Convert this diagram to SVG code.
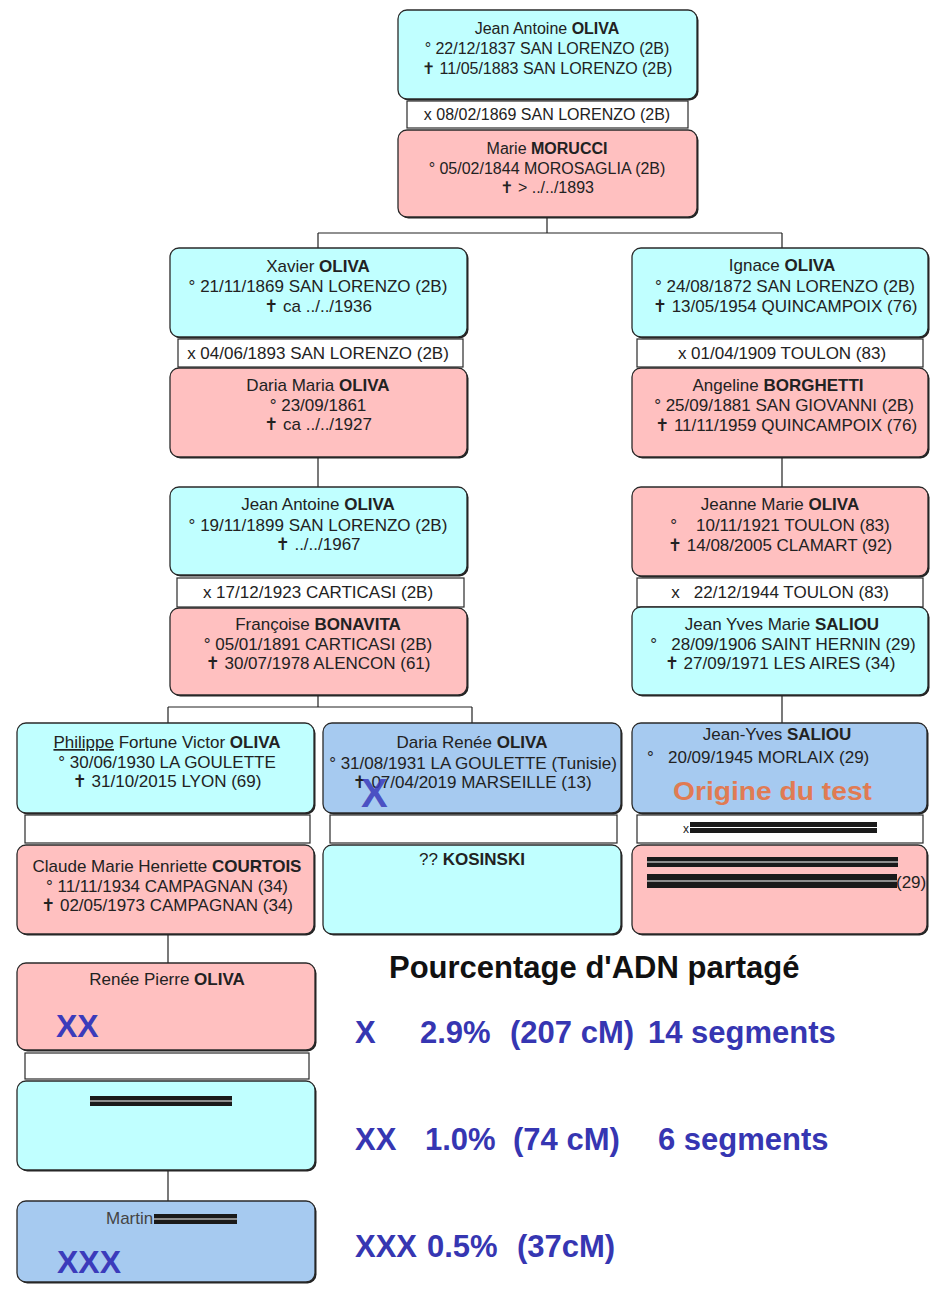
<svg xmlns="http://www.w3.org/2000/svg" width="932" height="1297" viewBox="0 0 932 1297">
<style>
.cy{fill:#c0ffff}.pk{fill:#ffc0c0}.bl{fill:#a6caf0}
.box{stroke:#2a2a2a;stroke-width:1.3}
.sh{fill:#222}
.mar{fill:#fff;stroke:#2a2a2a;stroke-width:1.2}
.t{font-family:"Liberation Sans",Arial,"DejaVu Sans",sans-serif;font-size:17px;fill:#222;text-anchor:middle}
.s16{font-size:16px}
.st{text-anchor:start}
.b{font-weight:bold}
.conn{stroke:#222;stroke-width:1.2;fill:none}
.red{fill:#1a1a1a}
.redl{stroke:#fff;stroke-width:1.2}
.leg{font-family:"Liberation Sans",Arial,sans-serif;font-size:31px;font-weight:bold;fill:#3636b2}
.mk{font-family:"Liberation Sans",Arial,sans-serif;font-weight:bold;fill:#3b3bbb}
</style>
<rect width="932" height="1297" fill="#fff"/>
<g id="connectors">
<path class="conn" d="M547 217V233M318 233H782M318 233V248M782 233V248"/>
<path class="conn" d="M318 458V487M782 458V487"/>
<path class="conn" d="M318 695V707M168 707H472M168 707V723M472 707V723M782 696V723"/>
<path class="conn" d="M168 935V963M168 1171V1201"/>
</g>
<g id="n_jean_antoine_1837">
<rect class="sh" x="399.5" y="11.5" width="299" height="89" rx="9"/>
<rect class="cy box" x="398" y="10" width="299" height="89" rx="9"/>
<text class="t s16" x="547" y="34">Jean Antoine <tspan class="b">OLIVA</tspan></text>
<text class="t s16" x="547" y="54">° 22/12/1837 SAN LORENZO (2B)</text>
<text class="t s16" x="547" y="74">✝ 11/05/1883 SAN LORENZO (2B)</text>
</g>
<g id="m_1869">
<rect class="mar" x="407" y="101" width="281" height="27"/>
<text class="t s16" x="547" y="120">x 08/02/1869 SAN LORENZO (2B)</text>
</g>
<g id="n_marie_morucci">
<rect class="sh" x="399.5" y="131.5" width="299" height="87" rx="9"/>
<rect class="pk box" x="398" y="130" width="299" height="87" rx="9"/>
<text class="t s16" x="547" y="154">Marie <tspan class="b">MORUCCI</tspan></text>
<text class="t s16" x="547" y="174">° 05/02/1844 MOROSAGLIA (2B)</text>
<text class="t s16" x="547" y="193">✝ &gt; ../../1893</text>
</g>
<g id="n_xavier">
<rect class="sh" x="171.5" y="249.5" width="297" height="89" rx="9"/>
<rect class="cy box" x="170" y="248" width="297" height="89" rx="9"/>
<text class="t" x="318" y="272">Xavier <tspan class="b">OLIVA</tspan></text>
<text class="t" x="318" y="292">° 21/11/1869 SAN LORENZO (2B)</text>
<text class="t" x="318" y="312">✝ ca ../../1936</text>
</g>
<g id="m_1893">
<rect class="mar" x="178" y="339" width="285" height="28"/>
<text class="t" x="318" y="359">x 04/06/1893 SAN LORENZO (2B)</text>
</g>
<g id="n_daria_maria">
<rect class="sh" x="171.5" y="369.5" width="297" height="89" rx="9"/>
<rect class="pk box" x="170" y="368" width="297" height="89" rx="9"/>
<text class="t" x="318" y="391">Daria Maria <tspan class="b">OLIVA</tspan></text>
<text class="t" x="318" y="411">° 23/09/1861</text>
<text class="t" x="318" y="430">✝ ca ../../1927</text>
</g>
<g id="n_jean_antoine_1899">
<rect class="sh" x="171.5" y="488.5" width="297" height="88" rx="9"/>
<rect class="cy box" x="170" y="487" width="297" height="88" rx="9"/>
<text class="t" x="318" y="510">Jean Antoine <tspan class="b">OLIVA</tspan></text>
<text class="t" x="318" y="531">° 19/11/1899 SAN LORENZO (2B)</text>
<text class="t" x="318" y="550">✝ ../../1967</text>
</g>
<g id="m_1923">
<rect class="mar" x="177" y="578" width="287" height="29"/>
<text class="t" x="318" y="598">x 17/12/1923 CARTICASI (2B)</text>
</g>
<g id="n_francoise">
<rect class="sh" x="171.5" y="609.5" width="297" height="87" rx="9"/>
<rect class="pk box" x="170" y="608" width="297" height="87" rx="9"/>
<text class="t" x="318" y="630">Françoise <tspan class="b">BONAVITA</tspan></text>
<text class="t" x="318" y="650">° 05/01/1891 CARTICASI (2B)</text>
<text class="t" x="318" y="669">✝ 30/07/1978 ALENCON (61)</text>
</g>
<g id="n_ignace">
<rect class="sh" x="633.5" y="249.5" width="296" height="89" rx="9"/>
<rect class="cy box" x="632" y="248" width="296" height="89" rx="9"/>
<text class="t" x="782" y="271">Ignace <tspan class="b">OLIVA</tspan></text>
<text class="t" x="785" y="292">° 24/08/1872 SAN LORENZO (2B)</text>
<text class="t" x="785" y="312">✝ 13/05/1954 QUINCAMPOIX (76)</text>
</g>
<g id="m_1909">
<rect class="mar" x="637" y="339" width="286" height="28"/>
<text class="t" x="782" y="359">x 01/04/1909 TOULON (83)</text>
</g>
<g id="n_angeline">
<rect class="sh" x="633.5" y="369.5" width="296" height="89" rx="9"/>
<rect class="pk box" x="632" y="368" width="296" height="89" rx="9"/>
<text class="t" x="778" y="391">Angeline <tspan class="b">BORGHETTI</tspan></text>
<text class="t" x="784" y="411">° 25/09/1881 SAN GIOVANNI (2B)</text>
<text class="t" x="786" y="431">✝ 11/11/1959 QUINCAMPOIX (76)</text>
</g>
<g id="n_jeanne_marie">
<rect class="sh" x="633.5" y="488.5" width="296" height="89" rx="9"/>
<rect class="pk box" x="632" y="487" width="296" height="89" rx="9"/>
<text class="t" x="780" y="510">Jeanne Marie <tspan class="b">OLIVA</tspan></text>
<text class="t" x="780" y="531">°&#160;&#160;&#160; 10/11/1921 TOULON (83)</text>
<text class="t" x="780" y="551">✝ 14/08/2005 CLAMART (92)</text>
</g>
<g id="m_1944">
<rect class="mar" x="637" y="578" width="286" height="29"/>
<text class="t" x="780" y="598">x&#160;&#160; 22/12/1944 TOULON (83)</text>
</g>
<g id="n_jean_yves_marie">
<rect class="sh" x="633.5" y="608.5" width="296" height="88" rx="9"/>
<rect class="cy box" x="632" y="607" width="296" height="88" rx="9"/>
<text class="t" x="782" y="630">Jean Yves Marie <tspan class="b">SALIOU</tspan></text>
<text class="t" x="783" y="650">°&#160;&#160; 28/09/1906 SAINT HERNIN (29)</text>
<text class="t" x="780" y="669">✝ 27/09/1971 LES AIRES (34)</text>
</g>
<g id="n_philippe">
<rect class="sh" x="18.5" y="724.5" width="297" height="90" rx="9"/>
<rect class="cy box" x="17" y="723" width="297" height="90" rx="9"/>
<text class="t" x="167" y="748"><tspan text-decoration="underline">Philippe</tspan> Fortune Victor <tspan class="b">OLIVA</tspan></text>
<text class="t" x="167" y="768">° 30/06/1930 LA GOULETTE</text>
<text class="t" x="167" y="787">✝ 31/10/2015 LYON (69)</text>
</g>
<g id="m_philippe">
<rect class="mar" x="25" y="815" width="285" height="28"/>
</g>
<g id="n_claude">
<rect class="sh" x="18.5" y="846.5" width="297" height="89" rx="9"/>
<rect class="pk box" x="17" y="845" width="297" height="89" rx="9"/>
<text class="t" x="167" y="872">Claude Marie Henriette <tspan class="b">COURTOIS</tspan></text>
<text class="t" x="167" y="892">° 11/11/1934 CAMPAGNAN (34)</text>
<text class="t" x="167" y="911">✝ 02/05/1973 CAMPAGNAN (34)</text>
</g>
<g id="n_daria_renee">
<rect class="sh" x="324.5" y="724.5" width="298" height="90" rx="9"/>
<rect class="bl box" x="323" y="723" width="298" height="90" rx="9"/>
<text class="t" x="472" y="748">Daria Renée <tspan class="b">OLIVA</tspan></text>
<text class="t" x="473" y="769">° 31/08/1931 LA GOULETTE (Tunisie)</text>
<text class="t" x="472" y="788">✝ 07/04/2019 MARSEILLE (13)</text>
<text class="mk" x="361" y="807" font-size="40" fill-opacity="0.85" fill="#4455dd">X</text>
</g>
<g id="m_daria">
<rect class="mar" x="330" y="815" width="287" height="28"/>
</g>
<g id="n_kosinski">
<rect class="sh" x="324.5" y="846.5" width="298" height="89" rx="9"/>
<rect class="cy box" x="323" y="845" width="298" height="89" rx="9"/>
<text class="t" x="472" y="865">?? <tspan class="b">KOSINSKI</tspan></text>
</g>
<g id="n_jean_yves">
<rect class="sh" x="633.5" y="724.5" width="295" height="90" rx="9"/>
<rect class="bl box" x="632" y="723" width="295" height="90" rx="9"/>
<text class="t" x="777" y="740">Jean-Yves <tspan class="b">SALIOU</tspan></text>
<text class="t st" x="647" y="763">°&#160;&#160; 20/09/1945 MORLAIX (29)</text>
<text x="673" y="800" textLength="199" lengthAdjust="spacingAndGlyphs" style="font-family:'Liberation Sans',Arial,sans-serif;font-size:25px;font-weight:bold;fill:#e07b53">Origine du test</text>
</g>
<g id="m_jean_yves">
<rect class="mar" x="637" y="815" width="286" height="28"/>
<text class="t st" x="683" y="833" style="font-size:12px">x</text>
<rect class="red" x="690" y="822" width="187" height="11"/>
<line class="redl" x1="690" y1="827.5" x2="877" y2="827.5"/>
</g>
<g id="n_spouse_jean_yves">
<rect class="sh" x="633.5" y="846.5" width="295" height="89" rx="9"/>
<rect class="pk box" x="632" y="845" width="295" height="89" rx="9"/>
<rect class="red" x="647" y="857" width="251" height="10"/>
<line class="redl" x1="647" y1="862" x2="898" y2="862"/>
<rect class="red" x="647" y="874" width="250" height="14"/>
<line class="redl" x1="647" y1="881" x2="897" y2="881"/>
<text class="t st" x="896" y="888">(29)</text>
</g>
<g id="n_renee">
<rect class="sh" x="18.5" y="964.5" width="298" height="87" rx="9"/>
<rect class="pk box" x="17" y="963" width="298" height="87" rx="9"/>
<text class="t" x="167" y="985">Renée Pierre <tspan class="b">OLIVA</tspan></text>
<text class="mk" x="56" y="1037" font-size="32">XX</text>
</g>
<g id="m_renee">
<rect class="mar" x="25" y="1053" width="284" height="26"/>
</g>
<g id="n_gerard">
<rect class="sh" x="18.5" y="1082.5" width="298" height="89" rx="9"/>
<rect class="cy box" x="17" y="1081" width="298" height="89" rx="9"/>
<rect class="red" x="90" y="1096" width="142" height="10"/>
<line class="redl" x1="90" y1="1101" x2="232" y2="1101"/>
</g>
<g id="n_martin">
<rect class="sh" x="18.5" y="1202.5" width="298" height="81" rx="9"/>
<rect class="bl box" x="17" y="1201" width="298" height="81" rx="9"/>
<text class="t st" x="106" y="1224" style="fill:#444">Martin</text>
<rect class="red" x="154" y="1214" width="83" height="10"/>
<line class="redl" x1="154" y1="1219" x2="237" y2="1219"/>
<text class="mk" x="57" y="1273" font-size="32">XXX</text>
</g>
<g id="legend">
<text x="389" y="978" style="font-family:'Liberation Sans',Arial,sans-serif;font-size:31px;font-weight:bold;fill:#111">Pourcentage d'ADN partagé</text>
<text class="leg" x="355" y="1043">X</text>
<text class="leg" x="420" y="1043">2.9%</text>
<text class="leg" x="510" y="1043">(207 cM)</text>
<text class="leg" x="648" y="1043">14 segments</text>
<text class="leg" x="355" y="1150">XX</text>
<text class="leg" x="425" y="1150">1.0%</text>
<text class="leg" x="513" y="1150">(74 cM)</text>
<text class="leg" x="658" y="1150">6 segments</text>
<text class="leg" x="355" y="1257">XXX</text>
<text class="leg" x="427" y="1257">0.5%</text>
<text class="leg" x="517" y="1257">(37cM)</text>
</g>
</svg>
